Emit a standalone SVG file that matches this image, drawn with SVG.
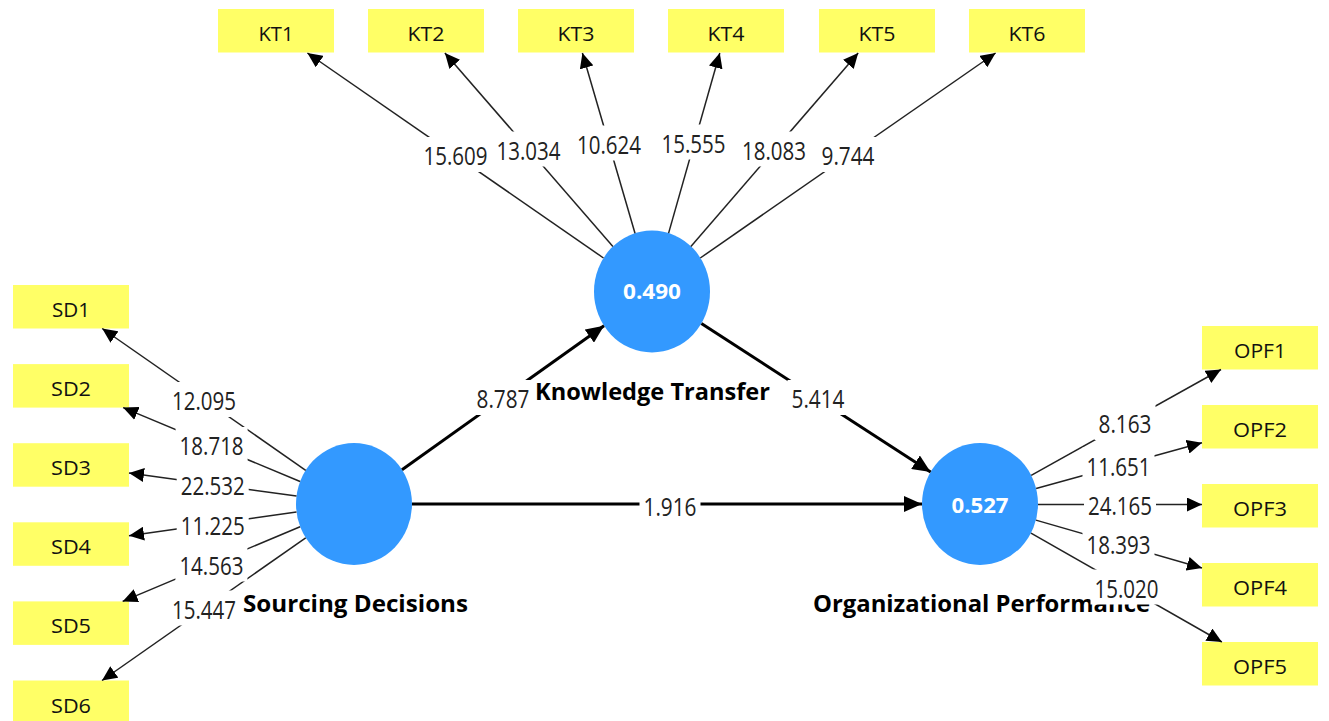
<svg xmlns="http://www.w3.org/2000/svg" width="1329" height="721" viewBox="0 0 1329 721">
<style>
.ind{fill:#FFFF66}
.lv{fill:#3399FF}
.it{font-family:"Open Sans","Liberation Sans",Arial,sans-serif;font-size:20px;fill:#111;text-anchor:middle}
.nl{font-family:"Open Sans","Liberation Sans",Arial,sans-serif;font-size:24px;font-weight:bold;fill:#000;text-anchor:middle}
.rv{font-family:"Open Sans","Liberation Sans",Arial,sans-serif;font-size:21px;font-weight:bold;fill:#fff;text-anchor:middle}
.ld{stroke:#222;stroke-width:1.5;fill:none;marker-end:url(#ah)}
.st{stroke:#000;stroke-width:3;fill:none;marker-end:url(#ahb)}
.bg{fill:#fff}
.num{font-family:"Open Sans","Liberation Sans",Arial,sans-serif;font-size:25px;fill:#222;text-anchor:middle}
</style>
<defs>
<marker id="ah" markerUnits="userSpaceOnUse" markerWidth="15" markerHeight="14" refX="15" refY="7" orient="auto"><path d="M0,0 L15,7 L0,14 z" fill="#000"/></marker>
<marker id="ahb" markerUnits="userSpaceOnUse" markerWidth="18" markerHeight="16" refX="18" refY="8" orient="auto"><path d="M0,0 L18,8 L0,16 z" fill="#000"/></marker>
</defs>
<rect width="1329" height="721" fill="#fff"/>

<!-- Latent variables -->
<g id="node-SD"><ellipse class="lv" cx="354" cy="504" rx="58" ry="61"/><text class="nl" x="355.5" y="612" textLength="225" lengthAdjust="spacingAndGlyphs">Sourcing Decisions</text></g>
<g id="node-KT"><ellipse class="lv" cx="652" cy="291.5" rx="58" ry="61"/><text class="rv" x="652" y="298.5" textLength="58" lengthAdjust="spacingAndGlyphs">0.490</text><text class="nl" x="652.5" y="400" textLength="235" lengthAdjust="spacingAndGlyphs">Knowledge Transfer</text></g>
<g id="node-OPF"><ellipse class="lv" cx="980" cy="504" rx="58" ry="61"/><text class="rv" x="980" y="512.5" textLength="57" lengthAdjust="spacingAndGlyphs">0.527</text><text class="nl" x="981.5" y="612" textLength="337" lengthAdjust="spacingAndGlyphs">Organizational Performance</text></g>

<!-- Indicators -->
<g id="KT1"><rect class="ind" x="218" y="9" width="116" height="43.5"/><text class="it" x="276" y="41" textLength="35" lengthAdjust="spacingAndGlyphs">KT1</text></g>
<g id="KT2"><rect class="ind" x="368" y="9" width="116" height="43.5"/><text class="it" x="426" y="41" textLength="37" lengthAdjust="spacingAndGlyphs">KT2</text></g>
<g id="KT3"><rect class="ind" x="518" y="9" width="116" height="43.5"/><text class="it" x="576" y="41" textLength="37" lengthAdjust="spacingAndGlyphs">KT3</text></g>
<g id="KT4"><rect class="ind" x="668" y="9" width="116" height="43.5"/><text class="it" x="726" y="41" textLength="37" lengthAdjust="spacingAndGlyphs">KT4</text></g>
<g id="KT5"><rect class="ind" x="819" y="9" width="116" height="43.5"/><text class="it" x="877" y="41" textLength="37" lengthAdjust="spacingAndGlyphs">KT5</text></g>
<g id="KT6"><rect class="ind" x="969" y="9" width="116" height="43.5"/><text class="it" x="1027" y="41" textLength="37" lengthAdjust="spacingAndGlyphs">KT6</text></g>

<g id="SD1"><rect class="ind" x="13" y="285" width="116" height="43.5"/><text class="it" x="71" y="317" textLength="38" lengthAdjust="spacingAndGlyphs">SD1</text></g>
<g id="SD2"><rect class="ind" x="13" y="364.1" width="116" height="43.5"/><text class="it" x="71" y="396.1" textLength="40" lengthAdjust="spacingAndGlyphs">SD2</text></g>
<g id="SD3"><rect class="ind" x="13" y="443.2" width="116" height="43.5"/><text class="it" x="71" y="475.2" textLength="40" lengthAdjust="spacingAndGlyphs">SD3</text></g>
<g id="SD4"><rect class="ind" x="13" y="522.3" width="116" height="43.5"/><text class="it" x="71" y="554.3" textLength="40" lengthAdjust="spacingAndGlyphs">SD4</text></g>
<g id="SD5"><rect class="ind" x="13" y="601.4" width="116" height="43.5"/><text class="it" x="71" y="633.4" textLength="40" lengthAdjust="spacingAndGlyphs">SD5</text></g>
<g id="SD6"><rect class="ind" x="13" y="680.5" width="116" height="43.5"/><text class="it" x="71" y="712.5" textLength="40" lengthAdjust="spacingAndGlyphs">SD6</text></g>

<g id="OPF1"><rect class="ind" x="1202" y="326" width="116" height="43.5"/><text class="it" x="1260" y="358" textLength="52" lengthAdjust="spacingAndGlyphs">OPF1</text></g>
<g id="OPF2"><rect class="ind" x="1202" y="405" width="116" height="43.5"/><text class="it" x="1260" y="437" textLength="54" lengthAdjust="spacingAndGlyphs">OPF2</text></g>
<g id="OPF3"><rect class="ind" x="1202" y="484" width="116" height="43.5"/><text class="it" x="1260" y="516" textLength="54" lengthAdjust="spacingAndGlyphs">OPF3</text></g>
<g id="OPF4"><rect class="ind" x="1202" y="563" width="116" height="43.5"/><text class="it" x="1260" y="595" textLength="54" lengthAdjust="spacingAndGlyphs">OPF4</text></g>
<g id="OPF5"><rect class="ind" x="1202" y="642" width="116" height="43.5"/><text class="it" x="1260" y="674" textLength="54" lengthAdjust="spacingAndGlyphs">OPF5</text></g>

<!-- Connectors -->
<g id="connectors">
<line class="ld" x1="603.5" y1="258" x2="307.4" y2="53"/>
<line class="ld" x1="612.9" y1="246.5" x2="444.9" y2="53"/>
<line class="ld" x1="635" y1="233.2" x2="582.4" y2="53"/>
<line class="ld" x1="668.6" y1="233.1" x2="719.8" y2="53"/>
<line class="ld" x1="690.9" y1="246.5" x2="858.2" y2="53"/>
<line class="ld" x1="700.3" y1="258" x2="995.6" y2="53"/>
<line class="ld" x1="305.7" y1="470.3" x2="102.2" y2="328.5"/>
<line class="ld" x1="300.1" y1="481.5" x2="123.1" y2="407.6"/>
<line class="ld" x1="296.5" y1="496.1" x2="129" y2="473"/>
<line class="ld" x1="296.5" y1="511.9" x2="129" y2="535.8"/>
<line class="ld" x1="300.1" y1="526.7" x2="122.6" y2="601.4"/>
<line class="ld" x1="305.7" y1="537.8" x2="102" y2="680.5"/>
<line class="ld" x1="1031.2" y1="475.4" x2="1221" y2="369.5"/>
<line class="ld" x1="1036.1" y1="488.5" x2="1202" y2="442.8"/>
<line class="ld" x1="1038" y1="504.5" x2="1202" y2="504.5"/>
<line class="ld" x1="1035.9" y1="520.1" x2="1202" y2="568"/>
<line class="ld" x1="1031" y1="533.1" x2="1221.9" y2="642"/>
<line class="st" x1="402" y1="469.8" x2="604" y2="325.7"/>
<line class="st" x1="701.4" y1="323.5" x2="930.6" y2="472"/>
<line class="st" x1="412" y1="504" x2="922" y2="504"/>

<g id="labels">
<rect class="bg" x="419.5" y="137" width="72" height="35"/><text class="num" x="455.5" y="165" textLength="64" lengthAdjust="spacingAndGlyphs">15.609</text>
<rect class="bg" x="492.5" y="131.5" width="72" height="35"/><text class="num" x="528.5" y="159.5" textLength="64" lengthAdjust="spacingAndGlyphs">13.034</text>
<rect class="bg" x="573" y="125.5" width="72" height="35"/><text class="num" x="609" y="153.5" textLength="64" lengthAdjust="spacingAndGlyphs">10.624</text>
<rect class="bg" x="657.5" y="124.5" width="72" height="35"/><text class="num" x="693.5" y="152.5" textLength="64" lengthAdjust="spacingAndGlyphs">15.555</text>
<rect class="bg" x="738" y="131.5" width="72" height="35"/><text class="num" x="774" y="159.5" textLength="64" lengthAdjust="spacingAndGlyphs">18.083</text>
<rect class="bg" x="817.5" y="137" width="61" height="35"/><text class="num" x="848" y="165" textLength="53" lengthAdjust="spacingAndGlyphs">9.744</text>

<rect class="bg" x="168" y="382" width="72" height="35"/><text class="num" x="204" y="410" textLength="64" lengthAdjust="spacingAndGlyphs">12.095</text>
<rect class="bg" x="175.6" y="427" width="72" height="35"/><text class="num" x="211.6" y="455" textLength="64" lengthAdjust="spacingAndGlyphs">18.718</text>
<rect class="bg" x="176.7" y="467" width="72" height="35"/><text class="num" x="212.7" y="495" textLength="64" lengthAdjust="spacingAndGlyphs">22.532</text>
<rect class="bg" x="176.7" y="506.5" width="72" height="35"/><text class="num" x="212.7" y="534.5" textLength="64" lengthAdjust="spacingAndGlyphs">11.225</text>
<rect class="bg" x="175.4" y="546.5" width="72" height="35"/><text class="num" x="211.4" y="574.5" textLength="64" lengthAdjust="spacingAndGlyphs">14.563</text>
<rect class="bg" x="168" y="590.5" width="72" height="35"/><text class="num" x="204" y="618.5" textLength="64" lengthAdjust="spacingAndGlyphs">15.447</text>

<rect class="bg" x="1094.5" y="405" width="61" height="35"/><text class="num" x="1125" y="433" textLength="53" lengthAdjust="spacingAndGlyphs">8.163</text>
<rect class="bg" x="1082.5" y="447.5" width="72" height="35"/><text class="num" x="1118.5" y="475.5" textLength="64" lengthAdjust="spacingAndGlyphs">11.651</text>
<rect class="bg" x="1084" y="487" width="72" height="35"/><text class="num" x="1120" y="515" textLength="64" lengthAdjust="spacingAndGlyphs">24.165</text>
<rect class="bg" x="1082.5" y="526" width="72" height="35"/><text class="num" x="1118.5" y="554" textLength="64" lengthAdjust="spacingAndGlyphs">18.393</text>
<rect class="bg" x="1090.5" y="569.5" width="72" height="35"/><text class="num" x="1126.5" y="597.5" textLength="64" lengthAdjust="spacingAndGlyphs">15.020</text>

<rect class="bg" x="472.5" y="380" width="61" height="35"/><text class="num" x="503" y="408" textLength="53" lengthAdjust="spacingAndGlyphs">8.787</text>
<rect class="bg" x="787.5" y="380" width="61" height="35"/><text class="num" x="818" y="408" textLength="53" lengthAdjust="spacingAndGlyphs">5.414</text>
<rect class="bg" x="639.5" y="488" width="61" height="35"/><text class="num" x="670" y="516" textLength="53" lengthAdjust="spacingAndGlyphs">1.916</text>
</g>
</g>
</svg>
